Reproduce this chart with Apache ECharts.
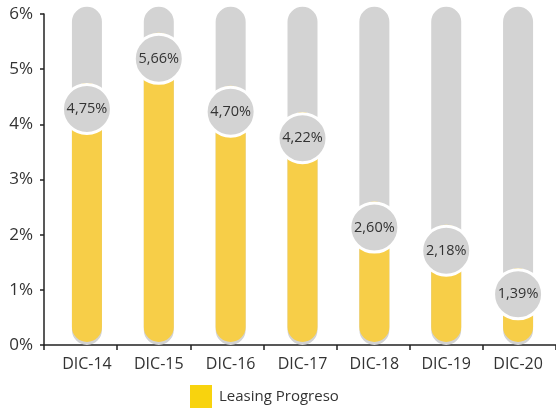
<!DOCTYPE html>
<html>
<head>
<meta charset="utf-8">
<script src="https://cdn.jsdelivr.net/npm/echarts@6/dist/echarts.min.js"></script>
<style>
  html, body { margin: 0; padding: 0; background: #fff; }
  #chart { width: 556px; height: 410px; }
</style>
</head>
<body>
<div id="chart"></div>
<script>
// data
const categories = ["DIC-14", "DIC-15", "DIC-16", "DIC-17", "DIC-18", "DIC-19", "DIC-20"];
const leasing = [4.75, 5.66, 4.70, 4.22, 2.60, 2.18, 1.39];
const yTicks = [0, 1, 2, 3, 4, 5, 6];
const seriesName = "Leasing Progreso";

const TRACK_TOP = 6.13;   // grey track runs a little past 6%
const BASE = 0.055;        // small gap between bar foot and axis

const font = "'Open Sans', sans-serif";
const chart = echarts.init(document.getElementById("chart"), null, {renderer: "canvas"});

const option = {
    animation: false,
    textStyle: {fontFamily: font},
    grid: [
        {left: 44, right: 0, top: 14, bottom: 65},
        {left: 51, right: 2, top: 14, bottom: 65}
    ],
    xAxis: [
        {
            type: "category", gridIndex: 0, data: categories,
            axisLine: {lineStyle: {color: "#222", width: 1.5}},
            axisTick: {show: true, length: 5, interval: 0, lineStyle: {color: "#222", width: 1.5}},
            axisLabel: {show: false}
        },
        {
            type: "category", gridIndex: 1, data: categories,
            axisLine: {show: false},
            axisTick: {show: false},
            axisLabel: {color: "#333", fontSize: 16, margin: 11, fontFamily: font}
        }
    ],
    yAxis: [
        {
            type: "value", gridIndex: 0, min: yTicks[0], max: yTicks[yTicks.length - 1], interval: 1,
            axisLine: {show: true, lineStyle: {color: "#222", width: 1.5}},
            axisTick: {show: true, length: 4, lineStyle: {color: "#222", width: 1.5}},
            splitLine: {show: false},
            axisLabel: {color: "#333", fontSize: 17, margin: 11, formatter: "{value}%", fontFamily: font}
        },
        {
            type: "value", gridIndex: 1, min: yTicks[0], max: yTicks[yTicks.length - 1],
            show: false
        }
    ],
    legend: {
        left: 190, top: 385,
        padding: 0,
        icon: "rect",
        itemWidth: 22, itemHeight: 23, itemGap: 10,
        textStyle: {color: "#333", fontSize: 15, fontFamily: font, padding: [0, 0, 0, 2]},
        data: [{name: seriesName, itemStyle: {color: "#F8D30E"}}]
    },
    series: [
        {
            name: "track",
            type: "bar",
            xAxisIndex: 1, yAxisIndex: 1,
            data: categories.map(() => TRACK_TOP),
            barWidth: 30,
            clip: false,
            silent: true,
            itemStyle: {color: "#D3D3D3", borderRadius: 15}
        },
        {
            name: "base",
            type: "bar",
            xAxisIndex: 1, yAxisIndex: 1,
            stack: "lp",
            barWidth: 30,
            barGap: "-100%",
            data: leasing.map(() => BASE),
            silent: true,
            itemStyle: {color: "rgba(0,0,0,0)"}
        },
        {
            name: seriesName,
            type: "bar",
            xAxisIndex: 1, yAxisIndex: 1,
            stack: "lp",
            barWidth: 30,
            barGap: "-100%",
            data: leasing.map(v => v - BASE),
            itemStyle: {color: "#F7CE48", borderRadius: 15}
        },
        {
            name: "labels",
            type: "scatter",
            xAxisIndex: 1, yAxisIndex: 1,
            data: leasing,
            symbol: "circle",
            symbolSize: 49,
            symbolOffset: [0, 26],
            clip: false,
            z: 5,
            itemStyle: {color: "#D3D3D3", borderColor: "#fff", borderWidth: 3, opacity: 1},
            label: {
                show: true,
                position: "inside",
                color: "#333",
                fontSize: 14.5,
                fontFamily: font,
                formatter: p => p.value.toFixed(2).replace(".", ",") + "%"
            }
        }
    ]
};

chart.setOption(option);
</script>
</body>
</html>
